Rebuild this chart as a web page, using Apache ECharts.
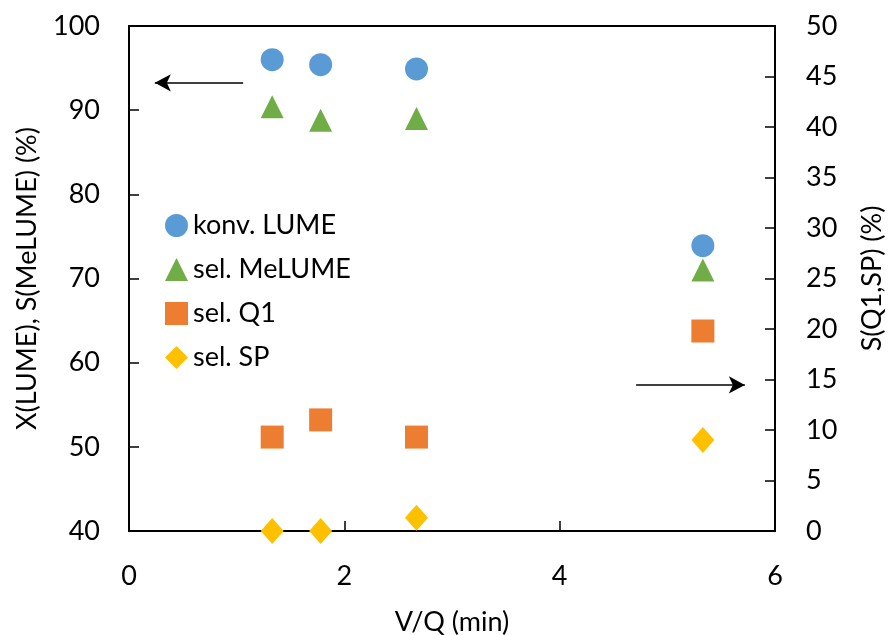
<!DOCTYPE html>
<html>
<head>
<meta charset="utf-8">
<script src="https://cdn.jsdelivr.net/npm/echarts@6/dist/echarts.min.js"></script>
<style>
html,body{margin:0;padding:0;background:#fff;}
#chart{width:893px;height:635px;}
</style>
</head>
<body>
<div id="chart"></div>
<script>
// Residence time V/Q (min)
const vq = [1.33, 1.78, 2.67, 5.33];
// Left axis: conversion / selectivity (%)
const konvLUME = [96.0, 95.4, 94.9, 73.9];
const selMeLUME = [90.4, 88.8, 89.0, 71.0];
// Right axis: selectivities (%)
const selQ1 = [9.3, 11.0, 9.3, 19.8];
const selSP = [0.0, 0.0, 1.3, 9.0];
// Axis-pointer arrows [x1, x2, y]
const arrowLeft = [1.06, 0.24, 93.25];
const arrowRight = [4.71, 5.72, 14.46];

const FONT = 'Lato, "Open Sans", sans-serif';
const pairs = (xs, ys) => xs.map((x, i) => [x, ys[i]]);

const chart = echarts.init(document.getElementById('chart'));
const axisLine = { show: true, lineStyle: { color: '#000', width: 2 } };
const tickIn = { show: true, inside: true, length: 10, lineStyle: { color: '#000', width: 1.5 } };
const FS = 27;
const lbl = { color: '#000', fontSize: FS, fontFamily: FONT };

function arrowMark(a) {
  return {
    silent: true,
    symbol: ['none', 'arrow'],
    symbolSize: [13, 16],
    lineStyle: { color: '#000', width: 1.5, type: 'solid' },
    label: { show: false },
    data: [[{ coord: [a[0], a[2]] }, { coord: [a[1], a[2]] }]]
  };
}

chart.setOption({
  animation: false,
  backgroundColor: '#fff',
  grid: {
    left: 129, right: 118, top: 26, bottom: 104,
    containLabel: false, outerBoundsMode: 'none',
    show: true, borderColor: '#000', borderWidth: 2
  },
  legend: {
    orient: 'vertical', left: 160, top: 207, itemGap: 17,
    itemWidth: 23, itemHeight: 23,
    textStyle: { color: '#000', fontSize: FS, fontFamily: FONT },
    data: [
      { name: 'konv. LUME', icon: 'circle' },
      { name: 'sel. MeLUME', icon: 'triangle' },
      { name: 'sel. Q1', icon: 'rect' },
      { name: 'sel. SP', icon: 'diamond' }
    ]
  },
  xAxis: {
    type: 'value', min: 0, max: 6, interval: 2,
    name: 'V/Q (min)', nameLocation: 'middle', nameGap: 78,
    nameTextStyle: lbl,
    axisLine: axisLine, axisTick: tickIn, splitLine: { show: false },
    axisLabel: Object.assign({ margin: 32 }, lbl)
  },
  yAxis: [
    {
      type: 'value', min: 40, max: 100, interval: 10,
      name: 'X(LUME), S(MeLUME) (%)', nameLocation: 'middle', nameGap: 88,
      nameTextStyle: lbl,
      axisLine: axisLine, axisTick: tickIn, splitLine: { show: false },
      axisLabel: Object.assign({ margin: 29 }, lbl)
    },
    {
      type: 'value', min: 0, max: 50, interval: 5, position: 'right',
      name: 'S(Q1,SP) (%)', nameLocation: 'middle', nameGap: 84, nameRotate: 90,
      nameTextStyle: lbl,
      axisLine: axisLine, axisTick: tickIn, splitLine: { show: false },
      axisLabel: Object.assign({ margin: 31 }, lbl)
    }
  ],
  series: [
    { name: 'konv. LUME', type: 'scatter', yAxisIndex: 0, symbol: 'circle', symbolSize: 23,
      itemStyle: { color: '#5B9BD5', opacity: 1 }, data: pairs(vq, konvLUME),
      markLine: arrowMark(arrowLeft) },
    { name: 'sel. MeLUME', type: 'scatter', yAxisIndex: 0, symbol: 'triangle', symbolSize: 23,
      itemStyle: { color: '#70AD47', opacity: 1 }, data: pairs(vq, selMeLUME) },
    { name: 'sel. Q1', type: 'scatter', yAxisIndex: 1, symbol: 'rect', symbolSize: 23,
      itemStyle: { color: '#ED7D31', opacity: 1 }, data: pairs(vq, selQ1),
      markLine: arrowMark(arrowRight) },
    { name: 'sel. SP', type: 'scatter', yAxisIndex: 1, symbol: 'diamond', symbolSize: [23, 26],
      itemStyle: { color: '#FFC000', opacity: 1 }, data: pairs(vq, selSP) }
  ]
});
</script>
</body>
</html>
